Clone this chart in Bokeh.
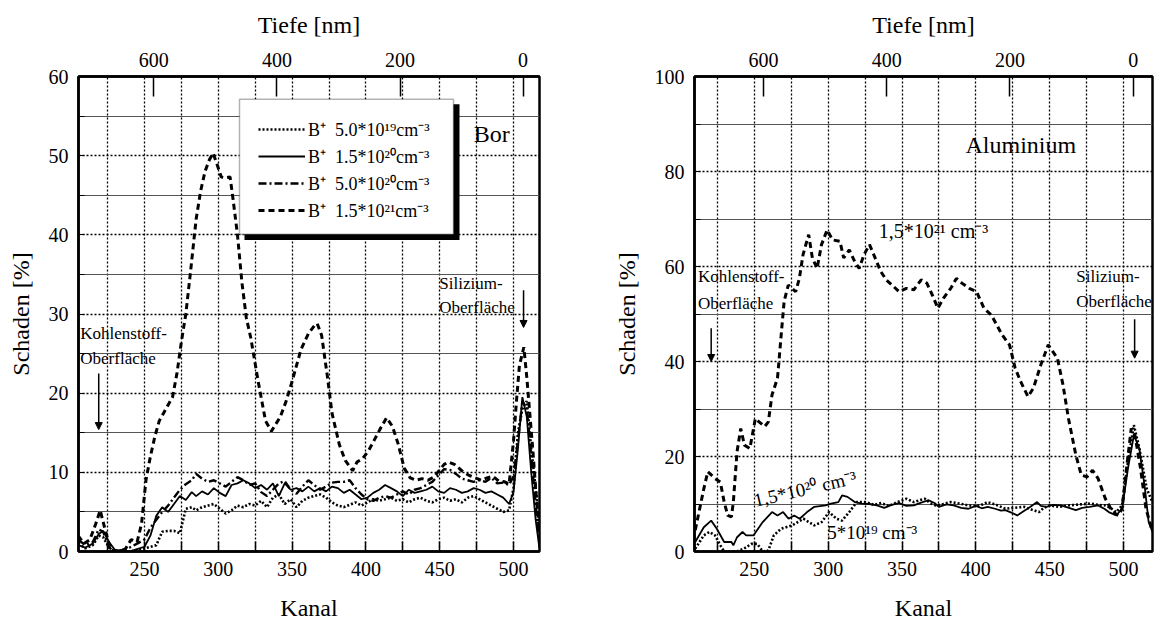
import math

from bokeh.plotting import figure
from bokeh.layouts import row
from bokeh.models import (Range1d, LinearAxis, FixedTicker, Legend, LegendItem,
                          BoxAnnotation, Arrow, NormalHead)
from bokeh.core.properties import value
from bokeh.embed import file_html
from bokeh.resources import INLINE

FONT = "Liberation Serif"

# ---------------- tick positions ----------------
kanal_ticks = [250, 300, 350, 400, 450, 500]
kanal_minor = [225, 275, 325, 375, 425, 475]
tiefe_ticks = [0, 200, 400, 600]
bor_y_ticks = [0, 10, 20, 30, 40, 50, 60]
bor_y_minor = [5, 15, 25, 35, 45, 55]
al_y_ticks = [0, 20, 40, 60, 80, 100]
al_y_minor = [10, 30, 50, 70, 90]

# channel <-> depth calibration of the upper axis
KANAL_AT_SURFACE = 506.5
KANAL_PER_NM = 0.417

# ---------------- Bor: 1.5e21 cm^-3 (dashed) ----------------
bor_kanal_21 = [205, 209, 213, 217, 220, 223, 226, 229, 233, 237, 241, 245, 248,
                251, 254, 257, 260, 263, 266, 269, 272, 275, 278, 281, 285, 288,
                291, 294, 296.5, 299, 302, 305, 308, 310, 313, 316, 319, 322, 327,
                332, 336, 342, 346, 350, 356, 361, 365, 367, 370, 374, 377, 382,
                386, 391, 394, 398, 402, 406, 410, 414, 418, 422, 426, 430, 434,
                438, 442, 446, 450, 453, 456, 460, 465, 470, 474, 478, 482, 486,
                490, 494, 497, 500, 502, 504, 507, 509, 511, 513, 515, 517.5]
bor_schaden_21 = [2.0, 1.0, 1.5, 3.5, 5.2, 3.0, 1.0, 0.2, 0.0, 0.3, 1.5, 1.2, 3.5,
                  9.0, 12.0, 14.5, 16.5, 17.5, 18.5, 19.5, 22.5, 26.5, 30.0, 35.0,
                  42.0, 45.5, 48.0, 49.5, 50.3, 49.0, 47.3, 47.2, 47.3, 44.5, 40.0,
                  34.0, 29.5, 27.0, 21.5, 16.5, 15.2, 17.0, 19.0, 21.5, 25.5, 27.5,
                  28.5, 28.8, 27.3, 22.0, 17.5, 13.5, 11.5, 10.2, 11.3, 11.8, 12.8,
                  14.2, 15.6, 16.9, 15.8, 13.5, 10.5, 9.3, 9.0, 9.2, 9.0, 9.4, 10.3,
                  11.0, 11.3, 11.0, 10.2, 9.6, 9.3, 9.0, 9.3, 9.5, 8.9, 8.8, 8.5,
                  14.0, 19.0, 23.5, 25.8, 22.0, 17.5, 13.0, 8.0, 2.5]

# ---------------- Bor: the three lower doses (common channel grid) ----------------
bor_kanal = [205, 210, 215, 219, 222, 226, 230, 235, 240, 245,
             250, 254, 258, 262, 266, 270, 274, 278, 282, 285,
             289, 293, 297, 301, 305, 309, 313, 317, 321, 325,
             329, 333, 337, 341, 345, 349, 353, 357, 361, 365,
             369, 373, 377, 381, 385, 389, 393, 397, 401, 405,
             409, 413, 417, 421, 425, 429, 433, 437, 441, 445,
             449, 453, 457, 461, 465, 469, 473, 477, 481, 485,
             489, 493, 497, 500, 503, 506, 509, 512, 515, 517.5]
bor_schaden_5e20 = [1.5, 0.8, 1.2, 2.8, 2.5, 0.5, 0.0, 0.2, 0.5, 1.0,
                    1.5, 3.0, 4.0, 5.0, 5.8, 6.8, 7.8, 8.5, 9.0, 9.8,
                    9.2, 8.8, 9.0, 8.6, 8.2, 8.8, 9.4, 9.0, 8.4, 8.6,
                    7.5, 7.0, 7.8, 8.6, 8.9, 7.8, 7.3, 8.2, 9.0, 8.4,
                    7.8, 8.2, 8.7, 8.8, 8.8, 9.0, 8.0, 7.2, 6.6, 6.4,
                    6.8, 7.0, 6.8, 7.2, 7.6, 7.2, 7.8, 8.0, 8.4, 8.8,
                    9.6, 10.4, 10.3, 9.8, 9.2, 9.0, 8.8, 9.0, 8.8, 9.3,
                    8.6, 8.7, 8.4, 9.5, 14.0, 19.0, 18.0, 12.0, 6.0, 1.0]
bor_schaden_15e20 = [0.8, 0.5, 1.0, 2.2, 2.6, 1.2, 0.2, 0.0, 0.0, 0.3,
                     0.6, 2.0, 4.5, 5.6, 5.0, 6.0, 7.0, 6.5, 7.5, 7.0,
                     7.6, 7.2, 8.0, 7.4, 7.0, 8.4, 8.6, 9.0, 8.6, 8.0,
                     8.4, 7.8, 8.6, 7.0, 8.6, 7.8, 8.0, 7.6, 8.2, 7.6,
                     8.0, 7.6, 8.2, 8.0, 7.4, 7.8, 7.2, 6.6, 6.8, 7.4,
                     7.8, 8.4, 8.0, 7.6, 7.0, 7.8, 7.4, 7.6, 7.8, 8.2,
                     7.6, 7.4, 8.0, 7.8, 7.4, 7.6, 8.0, 7.8, 7.4, 7.6,
                     7.2, 6.8, 6.0, 7.5, 13.0, 19.5, 17.0, 10.0, 4.0, 0.5]
bor_schaden_5e19 = [1.0, 0.4, 0.8, 2.0, 1.8, 0.5, 0.0, 0.0, 0.0, 0.2,
                    0.4, 0.6, 0.8, 2.5, 2.6, 2.6, 2.3, 5.4, 5.6, 5.2,
                    5.6, 5.8, 6.0, 5.4, 4.8, 5.2, 5.8, 5.6, 6.0, 5.8,
                    6.4, 5.6, 6.8, 7.2, 6.0, 6.6, 5.6, 6.4, 6.8, 7.0,
                    7.2, 6.8, 6.2, 5.8, 5.6, 5.9, 6.2, 5.8, 6.2, 6.6,
                    6.4, 6.6, 6.8, 6.4, 6.6, 6.2, 6.6, 6.8, 6.4, 6.2,
                    6.6, 6.8, 6.4, 6.6, 6.2, 6.8, 7.0, 6.6, 6.2, 5.8,
                    5.4, 5.0, 5.2, 8.0, 15.0, 18.0, 19.0, 13.0, 8.0, 3.0]

# ---------------- Aluminium: 1.5e21 cm^-3 (dashed) ----------------
al_kanal_21 = [210, 215.8, 218.5, 223.3, 227, 229.6, 232, 234.5, 235.8, 238.3,
               240.8, 243.3, 247, 250.7, 253.2, 257, 259.5, 262, 265.7, 268.2,
               270.2, 273, 278, 280.5, 283, 286.8, 289.3, 292.5, 295.5, 299.3,
               303, 308, 310.5, 314.3, 318, 321, 324.3, 328, 331.8, 335.5,
               339.3, 344.3, 348, 353, 358, 363, 366.8, 370.5, 374.3, 378,
               383, 386.8, 390.5, 395.5, 400.5, 405.5, 410.5, 417.8, 422.8, 426.6,
               430.3, 435.3, 439, 444, 449, 455.2, 459, 462.7, 467.7, 471.4,
               475.2, 479, 482.7, 487.7, 492.6, 496.4, 499, 501.5, 505.2, 507.7,
               511.5, 515.2, 519]
al_schaden_21 = [4.5, 13.2, 16.8, 15.4, 14.6, 10.4, 7.6, 7.3, 10.4, 21.0,
                 25.9, 22.4, 21.7, 28.0, 27.3, 26.3, 27.3, 33.0, 36.5, 45.6,
                 52.7, 56.1, 54.7, 57.5, 62.5, 66.7, 61.8, 59.6, 64.6, 67.7,
                 65.6, 65.3, 61.8, 63.5, 61.0, 59.6, 62.5, 64.6, 61.8, 59.0,
                 57.2, 55.8, 54.7, 55.4, 55.1, 57.2, 56.5, 54.0, 51.2, 53.3,
                 55.4, 57.5, 56.5, 55.4, 54.7, 51.2, 49.8, 45.6, 43.5, 38.6,
                 35.8, 32.6, 34.4, 39.3, 43.5, 40.7, 35.1, 28.0, 20.3, 16.1,
                 15.7, 17.1, 15.4, 11.1, 8.3, 7.6, 9.0, 16.1, 25.9, 24.5,
                 17.5, 9.0, 4.8]

# ---------------- Aluminium: 1.5e20 cm^-3 (solid) ----------------
al_kanal_20 = [210, 215.8, 220.8, 224.6, 229.6, 234.5, 235.8, 238.3, 242, 244.5,
               249.5, 255.7, 262, 265.7, 269.5, 273.2, 277, 280.7, 285.7, 290.6,
               298.2, 301.9, 306.9, 309.4, 313.1, 318, 323, 328, 333, 338,
               343, 348, 353, 358, 363, 368, 372, 375, 380, 385,
               390, 395, 400, 404, 408, 413, 417, 420, 424, 428,
               432, 436, 441.5, 444, 447.8, 452, 457.7, 462, 467.7, 472,
               477, 482.7, 487, 490, 495, 499, 503, 507, 510.7, 514.5,
               517, 519.6]
al_schaden_20 = [2.0, 5.1, 6.5, 4.8, 2.0, 2.0, 1.3, 3.0, 4.1, 3.4,
                 3.4, 6.2, 8.3, 7.6, 8.3, 6.9, 7.6, 6.9, 8.3, 9.4,
                 9.7, 10.1, 10.4, 11.8, 11.5, 10.4, 10.1, 10.0, 9.7, 9.2,
                 9.8, 10.2, 9.6, 9.7, 10.3, 10.8, 10.2, 9.4, 9.9, 9.7,
                 9.2, 9.0, 9.6, 9.1, 9.4, 9.0, 8.6, 8.7, 8.2, 7.6,
                 8.4, 9.2, 10.4, 9.6, 9.4, 9.8, 9.7, 9.3, 8.7, 9.2,
                 9.4, 9.7, 9.0, 8.3, 7.6, 9.0, 17.5, 24.5, 21.7, 13.2,
                 6.2, 4.1]

# ---------------- Aluminium: 5e19 cm^-3 (dotted) ----------------
al_kanal_19 = [210, 215.8, 219.6, 223.3, 227, 229.6, 234, 238, 243, 248,
               252, 255.7, 259.5, 263.2, 268.2, 275.7, 283.2, 290.6, 295.6, 300.6,
               305.6, 309.4, 314.3, 319.3, 325.6, 331, 336, 341, 347, 353,
               358, 362, 365.5, 369, 373, 378, 383, 389, 395, 399,
               403, 408, 414, 420, 426, 432.8, 438, 442.8, 446, 450,
               456, 462.7, 470, 477.7, 483, 487.7, 491, 495, 499, 503,
               507, 510.7, 515.7, 519.6]
al_schaden_19 = [0.6, 3.4, 4.1, 3.4, 1.3, 0.0, 0.0, 0.0, 0.6, 1.6,
                 1.6, 0.0, 0.2, 3.4, 4.8, 5.5, 6.9, 5.5, 6.2, 8.3,
                 6.9, 6.5, 8.3, 10.4, 10.4, 9.8, 10.2, 9.6, 10.4, 11.1,
                 10.4, 10.8, 11.1, 10.2, 9.7, 10.0, 10.4, 10.1, 9.7, 9.6,
                 9.7, 10.4, 9.8, 9.0, 9.2, 9.4, 8.8, 8.3, 9.2, 9.7,
                 9.4, 9.7, 9.9, 10.1, 9.8, 9.7, 9.2, 8.3, 9.7, 18.9,
                 26.6, 21.7, 13.2, 10.4]

bor_labels = ["B\u207a  5.0*10\u00b9\u2079cm\u207b\u00b3",
              "B\u207a  1.5*10\u00b2\u2070cm\u207b\u00b3",
              "B\u207a  5.0*10\u00b2\u2070cm\u207b\u00b3",
              "B\u207a  1.5*10\u00b2\u00b9cm\u207b\u00b3"]

STYLE_19 = dict(line_color="black", line_width=2.6, line_dash="2 2")
STYLE_20 = dict(line_color="black", line_width=1.8)
STYLE_5E20 = dict(line_color="black", line_width=2.4, line_dash="8 3 2 3")
STYLE_21 = dict(line_color="black", line_width=3.0, line_dash="6 4")


def style_text(ax):
    ax.axis_line_color = "black"
    ax.axis_line_width = 2.5
    ax.major_tick_line_color = "black"
    ax.major_label_text_font = FONT
    ax.major_label_text_font_size = "20px"
    ax.major_label_text_color = "black"
    ax.axis_label_text_font = FONT
    ax.axis_label_text_font_size = "24px"
    ax.axis_label_text_font_style = "normal"
    ax.axis_label_text_color = "black"


def make_panel(x_lo, x_hi, y_hi, y_ticks, y_minor, borders):
    left, right, top, bottom = borders
    p = figure(width=580, height=623, x_range=Range1d(x_lo, x_hi),
               y_range=Range1d(0, y_hi), output_backend="svg",
               toolbar_location=None, min_border_left=left,
               min_border_right=right, min_border_top=top,
               min_border_bottom=bottom, x_axis_location=None,
               y_axis_location=None)
    p.background_fill_color = "white"
    p.border_fill_color = "white"
    p.outline_line_color = "black"
    p.outline_line_width = 2.5

    # channel scale below
    bottom_axis = LinearAxis(axis_label="Kanal",
                             ticker=FixedTicker(ticks=kanal_ticks, minor_ticks=kanal_minor))
    bottom_axis.major_tick_in = 10
    bottom_axis.major_tick_out = 0
    bottom_axis.minor_tick_in = 10
    bottom_axis.minor_tick_out = 0
    bottom_axis.minor_tick_line_color = "black"
    bottom_axis.minor_tick_line_width = 1.5
    bottom_axis.major_tick_line_width = 1.5
    bottom_axis.major_label_standoff = 10
    bottom_axis.axis_label_standoff = 16
    style_text(bottom_axis)
    p.add_layout(bottom_axis, "below")

    # depth scale on top
    p.extra_x_ranges = {"tiefe": Range1d(start=(KANAL_AT_SURFACE - x_lo) / KANAL_PER_NM,
                                         end=(KANAL_AT_SURFACE - x_hi) / KANAL_PER_NM)}
    top_axis = LinearAxis(x_range_name="tiefe", axis_label="Tiefe [nm]",
                          ticker=FixedTicker(ticks=tiefe_ticks))
    top_axis.major_tick_in = 20
    top_axis.major_tick_out = 0
    top_axis.major_tick_line_width = 1.5
    top_axis.minor_tick_line_color = None
    top_axis.major_label_standoff = 10
    top_axis.axis_label_standoff = 12
    style_text(top_axis)
    p.add_layout(top_axis, "above")

    # damage scale on the left
    left_axis = LinearAxis(axis_label="Schaden [%]",
                           ticker=FixedTicker(ticks=y_ticks, minor_ticks=y_minor))
    left_axis.major_tick_in = 6
    left_axis.major_tick_out = 0
    left_axis.minor_tick_in = 6
    left_axis.minor_tick_out = 0
    left_axis.minor_tick_line_color = "black"
    left_axis.major_label_standoff = 10
    left_axis.axis_label_standoff = 12
    style_text(left_axis)
    p.add_layout(left_axis, "left")

    # grid: dotted verticals every 25 channels, dotted majors / solid minors in y
    p.xgrid.ticker = bottom_axis.ticker
    p.ygrid.ticker = left_axis.ticker
    p.xgrid.grid_line_color = "black"
    p.xgrid.grid_line_dash = "2 2"
    p.xgrid.grid_line_width = 1.3
    p.xgrid.minor_grid_line_color = "black"
    p.xgrid.minor_grid_line_dash = "2 2"
    p.xgrid.minor_grid_line_width = 1.3
    p.ygrid.grid_line_color = "black"
    p.ygrid.grid_line_dash = "2 2"
    p.ygrid.grid_line_width = 1.4
    p.ygrid.minor_grid_line_color = "#555555"
    p.ygrid.minor_grid_line_width = 1.2
    return p


def label(p, xs, ys, texts, size, align="left", angle=0.0):
    p.text(x=xs, y=ys, text=texts, text_font=value(FONT), text_font_size=size,
           text_align=align, text_baseline="middle", text_color="black",
           angle=angle)


def arrow(p, x, y0, y1):
    p.add_layout(Arrow(end=NormalHead(size=7, fill_color="black", line_color="black"),
                       x_start=x, y_start=y0, x_end=x, y_end=y1,
                       line_color="black", line_width=1.5))


# ================= Bor panel =================
BOR_X = (205.3, 517.6)
p1 = make_panel(BOR_X[0], BOR_X[1], 60, bor_y_ticks, bor_y_minor, (78, 41, 76, 68))

r19 = p1.line(bor_kanal, bor_schaden_5e19, **STYLE_19)
r20 = p1.line(bor_kanal, bor_schaden_15e20, **STYLE_20)
r5e20 = p1.line(bor_kanal, bor_schaden_5e20, **STYLE_5E20)
r21 = p1.line(bor_kanal_21, bor_schaden_21, **STYLE_21)

# legend frame with a drop shadow (frame pixels converted to data units)
px_x = (BOR_X[1] - BOR_X[0]) / 461.0
px_y = 60.0 / 479.0


def box_px(x0, y0, x1, y1, **kw):
    return BoxAnnotation(left=BOR_X[0] + (x0 - 78) * px_x, right=BOR_X[0] + (x1 - 78) * px_x,
                         top=(555 - y0) * px_y, bottom=(555 - y1) * px_y, **kw)


p1.add_layout(box_px(244, 104, 459, 241, fill_color="black", fill_alpha=1.0,
                     line_color=None))
p1.add_layout(box_px(239, 99, 453, 235, fill_color="white", fill_alpha=1.0,
                     line_color="black", line_width=1.5))

legend = Legend(items=[LegendItem(label=bor_labels[0], renderers=[r19]),
                       LegendItem(label=bor_labels[1], renderers=[r20]),
                       LegendItem(label=bor_labels[2], renderers=[r5e20]),
                       LegendItem(label=bor_labels[3], renderers=[r21])],
                location=(180, 329), padding=0, spacing=3,
                glyph_width=47, glyph_height=20, label_height=20,
                label_standoff=3, margin=0,
                label_text_font=FONT, label_text_font_size="18px",
                label_text_color="black",
                border_line_color=None, background_fill_alpha=0.0)
p1.add_layout(legend, "center")

label(p1, [473], [52.8], ["Bor"], "24px")
label(p1, [206.5, 206.5], [27.5, 24.4], ["Kohlenstoff-", "Oberfl\u00e4che"], "17px")
label(p1, [449.7, 449.7], [33.9, 30.8], ["Silizium-", "Oberfl\u00e4che"], "17px")
arrow(p1, 219, 22.5, 15.4)
arrow(p1, 506.8, 33.0, 28.3)

# ================= Aluminium panel =================
p2 = make_panel(209.5, 519.6, 100, al_y_ticks, al_y_minor, (114, 8, 73, 71))

p2.line(al_kanal_19, al_schaden_19, **STYLE_19)
p2.line(al_kanal_20, al_schaden_20, **STYLE_20)
p2.line(al_kanal_21, al_schaden_21, **STYLE_21)

label(p2, [393], [85.6], ["Aluminium"], "24px")
label(p2, [334.3], [67.4], ["1,5*10\u00b2\u00b9 cm\u207b\u00b3"], "20px")
label(p2, [284.4], [13.2], ["1,5*10\u00b2\u2070 cm\u207b\u00b3"], "19px",
      align="center", angle=math.radians(13))
label(p2, [299.4], [4.1], ["5*10\u00b9\u2079 cm\u207b\u00b3"], "19px")
label(p2, [211.8, 211.8], [58.0, 52.3], ["Kohlenstoff-", "Oberfl\u00e4che"], "17px")
label(p2, [468, 468], [58.0, 52.6], ["Silizium-", "Oberfl\u00e4che"], "17px")
arrow(p2, 220.8, 47.0, 40.0)
arrow(p2, 507.5, 48.9, 40.7)

layout = row(p1, p2, spacing=0)
open("out.html", "w").write(file_html(layout, INLINE))
